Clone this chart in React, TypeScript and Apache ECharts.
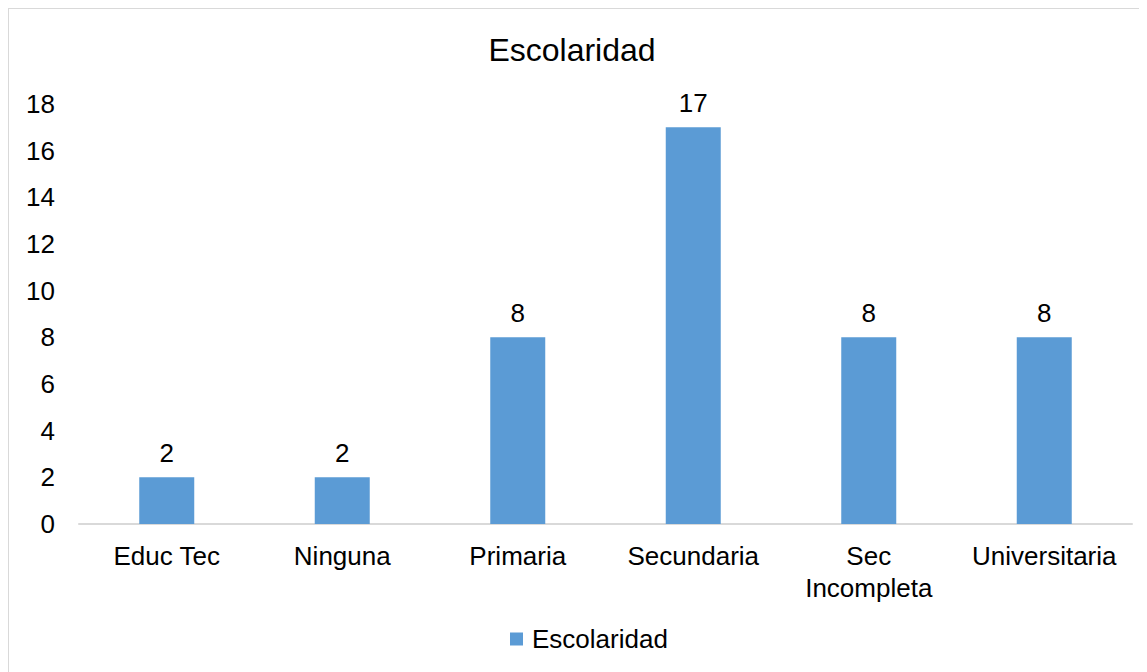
import React, { useEffect, useRef } from "react";
import * as echarts from "echarts";

const categories = ["Educ Tec", "Ninguna", "Primaria", "Secundaria", "Sec\nIncompleta", "Universitaria"];
const values = [2, 2, 8, 17, 8, 8];
const seriesName = "Escolaridad";
const titleText = "Escolaridad";

export default function App() {
  const ref = useRef<HTMLDivElement>(null);
  useEffect(() => {
    document.documentElement.style.overflow = "hidden";
    document.body.style.overflow = "hidden";
    const chart = echarts.init(ref.current!, null, { renderer: "svg" });
    const font = "Liberation Sans, Arial, sans-serif";
    chart.setOption({
      animation: false,
      textStyle: { fontFamily: font },
      title: {
        text: titleText,
        left: 558,
        textAlign: "center",
        top: 20,
        textStyle: { fontSize: 32, fontWeight: "normal", color: "#000", fontFamily: font },
      },
      grid: { left: 70, right: 15, top: 95, bottom: 148, containLabel: false },
      legend: {
        left: 496,
        top: 612,
        itemWidth: 13,
        itemHeight: 13,
        icon: "rect",
        textStyle: { fontSize: 26, color: "#000", fontFamily: font, padding: [0, 0, 0, 4] },
        data: [seriesName],
      },
      xAxis: {
        type: "category",
        data: categories,
        axisLine: { lineStyle: { color: "#D9D9D9", width: 2 } },
        axisTick: { show: false },
        axisLabel: { fontSize: 26, color: "#000", margin: 16, lineHeight: 32, interval: 0, fontFamily: font },
      },
      yAxis: {
        type: "value",
        min: 0,
        max: 18,
        interval: 2,
        axisLine: { show: false },
        axisTick: { show: false },
        splitLine: { show: false },
        axisLabel: { fontSize: 26, color: "#000", margin: 24, fontFamily: font },
      },
      series: [
        {
          name: seriesName,
          type: "bar",
          data: values,
          barWidth: 55,
          itemStyle: { color: "#5B9BD5" },
          label: { show: true, position: "top", distance: 11, fontSize: 26, color: "#000", fontFamily: font },
        },
      ],
    });
    return () => chart.dispose();
  }, []);
  return (
    <div
      style={{
        borderTop: "1px solid #D9D9D9",
        borderLeft: "1px solid #D9D9D9",
        width: 1138,
        height: 663,
      }}
    >
      <div ref={ref} style={{ width: 1138, height: 663 }} />
    </div>
  );
}
